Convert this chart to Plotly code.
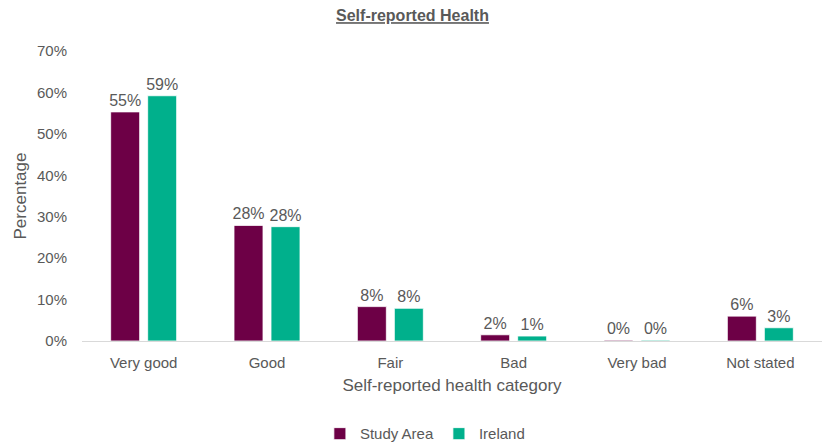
import plotly.graph_objects as go

categories = ["Very good", "Good", "Fair", "Bad", "Very bad", "Not stated"]
study_area = [55.3, 27.9, 8.3, 1.5, 0.2, 6.0]
ireland = [59.2, 27.6, 7.9, 1.2, 0.2, 3.2]
y_ticks = [0, 10, 20, 30, 40, 50, 60, 70]

MAROON = "#6D0046"
TEAL = "#00B08C"
TEXT = "#595959"
FONT = "Liberation Sans, Arial, sans-serif"

fig = go.Figure()
for name, vals, col in [("Study Area", study_area, MAROON), ("Ireland", ireland, TEAL)]:
    fig.add_trace(go.Bar(
        x=categories, y=vals, name=name,
        marker=dict(color=col, line=dict(color="white", width=0.8)),
        texttemplate="%{y:.0f}%", textposition="outside",
        textfont=dict(size=16, color=TEXT, family=FONT),
        constraintext="none",
        cliponaxis=False,
    ))

fig.update_layout(
    width=825, height=445,
    margin=dict(l=82, r=3, t=51, b=104),
    paper_bgcolor="white", plot_bgcolor="white",
    font=dict(family=FONT, color=TEXT, size=15),
    barmode="group", bargap=0.4, bargroupgap=0.216,
    title=dict(text="<b><u>Self-reported Health</u></b>", x=0.5, xanchor="center",
               y=0.965, yanchor="middle", font=dict(size=16, color=TEXT, family=FONT)),
    xaxis=dict(
        title=dict(text="Self-reported health category", font=dict(size=17, color=TEXT), standoff=9),
        showline=True, linecolor="#D9D9D9", linewidth=1, ticks="", showgrid=False,
        tickfont=dict(size=15, color=TEXT), ticklabelstandoff=8, automargin=True,
    ),
    yaxis=dict(
        title=dict(text="Percentage", font=dict(size=17, color=TEXT), standoff=6),
        range=[0, 70], tickvals=y_ticks, ticktext=[f"{v}%" for v in y_ticks],
        showgrid=False, zeroline=False, showline=False, ticks="",
        tickfont=dict(size=15, color=TEXT), ticklabelstandoff=14, automargin=True,
    ),
    legend=dict(orientation="h", x=0.515, xanchor="center", xref="container",
                y=0.025, yanchor="middle", yref="container",
                font=dict(size=15, color=TEXT), itemwidth=30, traceorder="normal"),
)

fig.write_html("out.html")
